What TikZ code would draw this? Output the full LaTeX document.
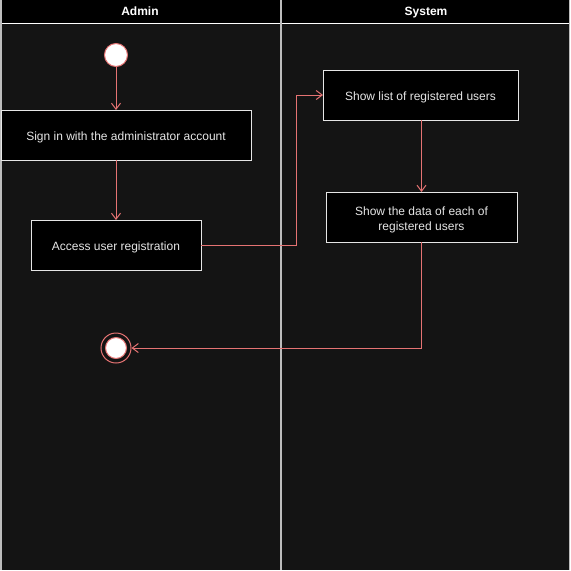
\documentclass[tikz,border=0pt]{standalone}
\usepackage{fontspec}
\setmainfont{Liberation Sans}
\usetikzlibrary{arrows.meta}
\definecolor{lanebg}{HTML}{141414}
\definecolor{flowred}{HTML}{E57373}
\definecolor{boxline}{HTML}{E6E6E6}
\definecolor{lanegray}{HTML}{BDBDBD}
\tikzset{
  activity/.style={draw=boxline, fill=black, text=boxline, line width=1pt, inner sep=0pt, outer sep=0pt,
    minimum height=50, align=center, font=\fontsize{12}{15}\selectfont},
  oneline/.style={text height=11, text depth=1},
  startstate/.style={circle, draw=flowred, fill=white, line width=1pt, minimum size=23, inner sep=0pt},
  endstate/.style={circle, draw=flowred, line width=1pt, minimum size=30, inner sep=0pt},
  flow/.style={draw=flowred, line width=1pt, -{Straight Barb[length=6pt,width=9pt]}},
  lanetitle/.style={text=white, text height=8.6, text depth=2.5, inner sep=0pt, font=\bfseries\fontsize{12}{14}\selectfont}
}
\begin{document}
\begin{tikzpicture}[x=1pt, y=-1pt]
			%%%%% START %%%%%
			
			\useasboundingbox (0, 0) rectangle (571, 571);
			\fill[lanebg] (0, 0) rectangle (570, 570);
			
			\fill[black] (0, 0) rectangle (570, 23);
			\draw[white, line width=1pt] (0, 23) -- (570, 23);
			\node[lanetitle] (admin) at (140, 12) {Admin};
			\node[lanetitle] (system) at (426, 12) {System};
			
			\draw[lanegray, line width=1.5pt] (1, 0) -- (1, 570);
			\draw[lanegray, line width=1.5pt] (281, 0) -- (281, 570);
			\draw[lanegray, line width=1pt] (569.5, 0) -- (569.5, 570);
			
			\node[startstate] (start) at (116, 55) {};
			\node[activity, oneline, minimum width=250] (signin) at (126, 135) {Sign in with the administrator account};
			\node[activity, oneline, minimum width=170] (access) at (116, 245) {Access user registration};
			
			\node[activity, oneline, minimum width=195] (showlist) at (420.5, 95) {Show list of registered users};
			\node[activity, minimum width=191] (showdata) at (421.5, 217) {\rule{0pt}{14pt}Show the data of each of\\registered users};
			
			\node[endstate] (end) at (116, 348) {};
			\node[startstate, minimum size=21] (endcore) at (end) {};
			
			\draw[flow] (start) -- (start |- signin.north);
			\draw[flow] (signin.south -| access) -- (access);
			\draw[flow] (access.east) -- ++(95, 0) |- (showlist.west);
			\draw[flow] (showlist.south -| showdata.north) -- (showdata.north);
			\draw[flow] (showdata.south) |- (end);
			
			%%%%% END %%%%%
		\end{tikzpicture}
\end{document}
